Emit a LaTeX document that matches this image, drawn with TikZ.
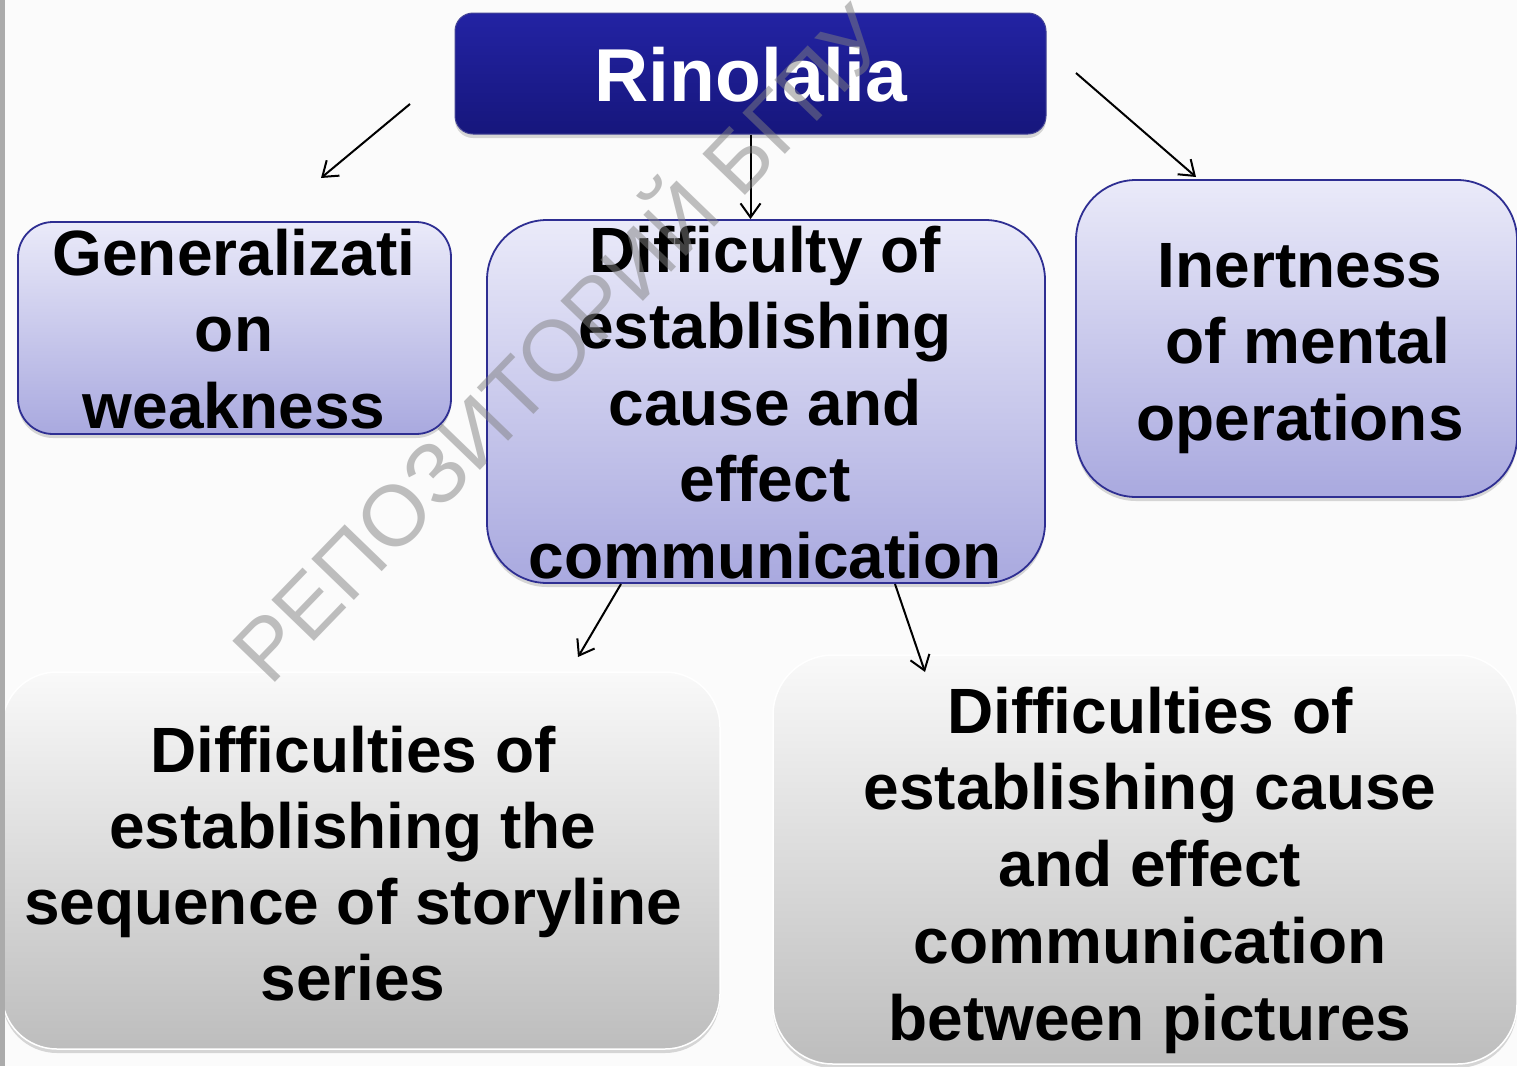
\documentclass[tikz,border=0pt]{standalone}
\usepackage{fontspec}
\setmainfont{Liberation Sans}
\usetikzlibrary{arrows.meta,shadows}
\definecolor{bgc}{HTML}{FBFBFB}
\definecolor{stripc}{HTML}{ABABAB}
\definecolor{rintop}{HTML}{2323A3}
\definecolor{rinbot}{HTML}{16167C}
\definecolor{lavtop}{HTML}{EAEAF9}
\definecolor{lavbot}{HTML}{A9A9DF}
\definecolor{lavborder}{HTML}{2E2E92}
\definecolor{graytop}{HTML}{F9F9F9}
\definecolor{graybot}{HTML}{BDBDBD}
\begin{document}
\begin{tikzpicture}[x=1pt,y=1pt,
  shade/.style={drop shadow={opacity=0.3,shadow xshift=0pt,shadow yshift=-4pt}},
  rinbox/.style={shade,inner sep=0pt,rounded corners=18pt,top color=rintop,bottom color=rinbot,draw=rinbot!80!white,line width=1pt},
  lavbox/.style={shade,inner sep=0pt,rounded corners=#1,top color=lavtop,bottom color=lavbot,draw=lavborder,line width=1.8pt},
  graybox/.style={shade,inner sep=0pt,rounded corners=#1,top color=graytop,bottom color=graybot,draw=white,line width=1.5pt},
  txt/.style={inner sep=0pt,align=center,anchor=north,font=\fontsize{64}{76.5}\selectfont\bfseries},
  conn/.style={line width=2pt,-{Straight Barb[length=14pt,width=20pt]}}
]
\useasboundingbox (0,0) rectangle (1517,-1066);
\fill[bgc] (0,0) rectangle (1517,-1066);

% boxes
\node[rinbox,minimum width=591pt,minimum height=121pt] (rin) at (750.5,-73.5) {};
\node[lavbox=35pt,minimum width=433pt,minimum height=212pt] (gen) at (234.5,-328) {};
\node[lavbox=60pt,minimum width=558pt,minimum height=363pt] (mid) at (766,-401.5) {};
\node[lavbox=60pt,minimum width=441pt,minimum height=317pt] (inert) at (1296.5,-338.5) {};
\node[graybox=55pt,minimum width=718pt,minimum height=377pt] (bl) at (361,-860.5) {};
\node[graybox=60pt,minimum width=744pt,minimum height=409pt] (br) at (1145,-859.5) {};

% texts
\node[inner sep=0pt,anchor=base,text=white,font=\fontsize{75}{80}\selectfont\bfseries] (trin) at (751,-101) {Rinolalia};
\node[txt] (tgen) at (234,-221.45) {\strut Generalizati\\on\\weakness};
\node[txt] (tmid) at (765,-218.45) {\strut Difficulty of\\establishing\\cause and\\effect\\communication};
\node[txt] (tinert) at (1300,-233.45) {\strut Inertness\\\hspace*{16pt}of mental\\operations};
\node[txt,font=\fontsize{64}{76}\selectfont\bfseries] (tbl) at (353,-718.8) {\strut Difficulties of\\establishing the\\sequence of storyline\\series};
\node[txt,font=\fontsize{64}{76.75}\selectfont\bfseries] (tbr) at (1150,-679.3) {\strut Difficulties of\\establishing cause\\and effect\\communication\\between pictures};

% connectors
\coordinate (a1s) at (410,-104);
\coordinate (a1e) at (321,-178);
\coordinate (a3s) at (1076,-73);
\coordinate (a3e) at (1196,-177);
\coordinate (a4s) at (621,-584);
\coordinate (a4e) at (578,-657);
\coordinate (a5s) at (895,-584);
\coordinate (a5e) at (925,-672);
\draw[conn] (a1s) -- (a1e);
\draw[conn] (rin.south) -- (rin.south |- mid.north);
\draw[conn] (a3s) -- (a3e);
\draw[conn] (a4s) -- (a4e);
\draw[conn] (a5s) -- (a5e);

% left strip
\fill[stripc] (0,0) rectangle (5,-1066);

% watermark
\node[inner sep=0pt,rotate=46,anchor=base west,font=\fontsize{86}{86}\selectfont,text=black!50,opacity=0.5] (wm) at (270,-688) {РЕПОЗИТОРИЙ БГПУ};
\end{tikzpicture}
\end{document}
